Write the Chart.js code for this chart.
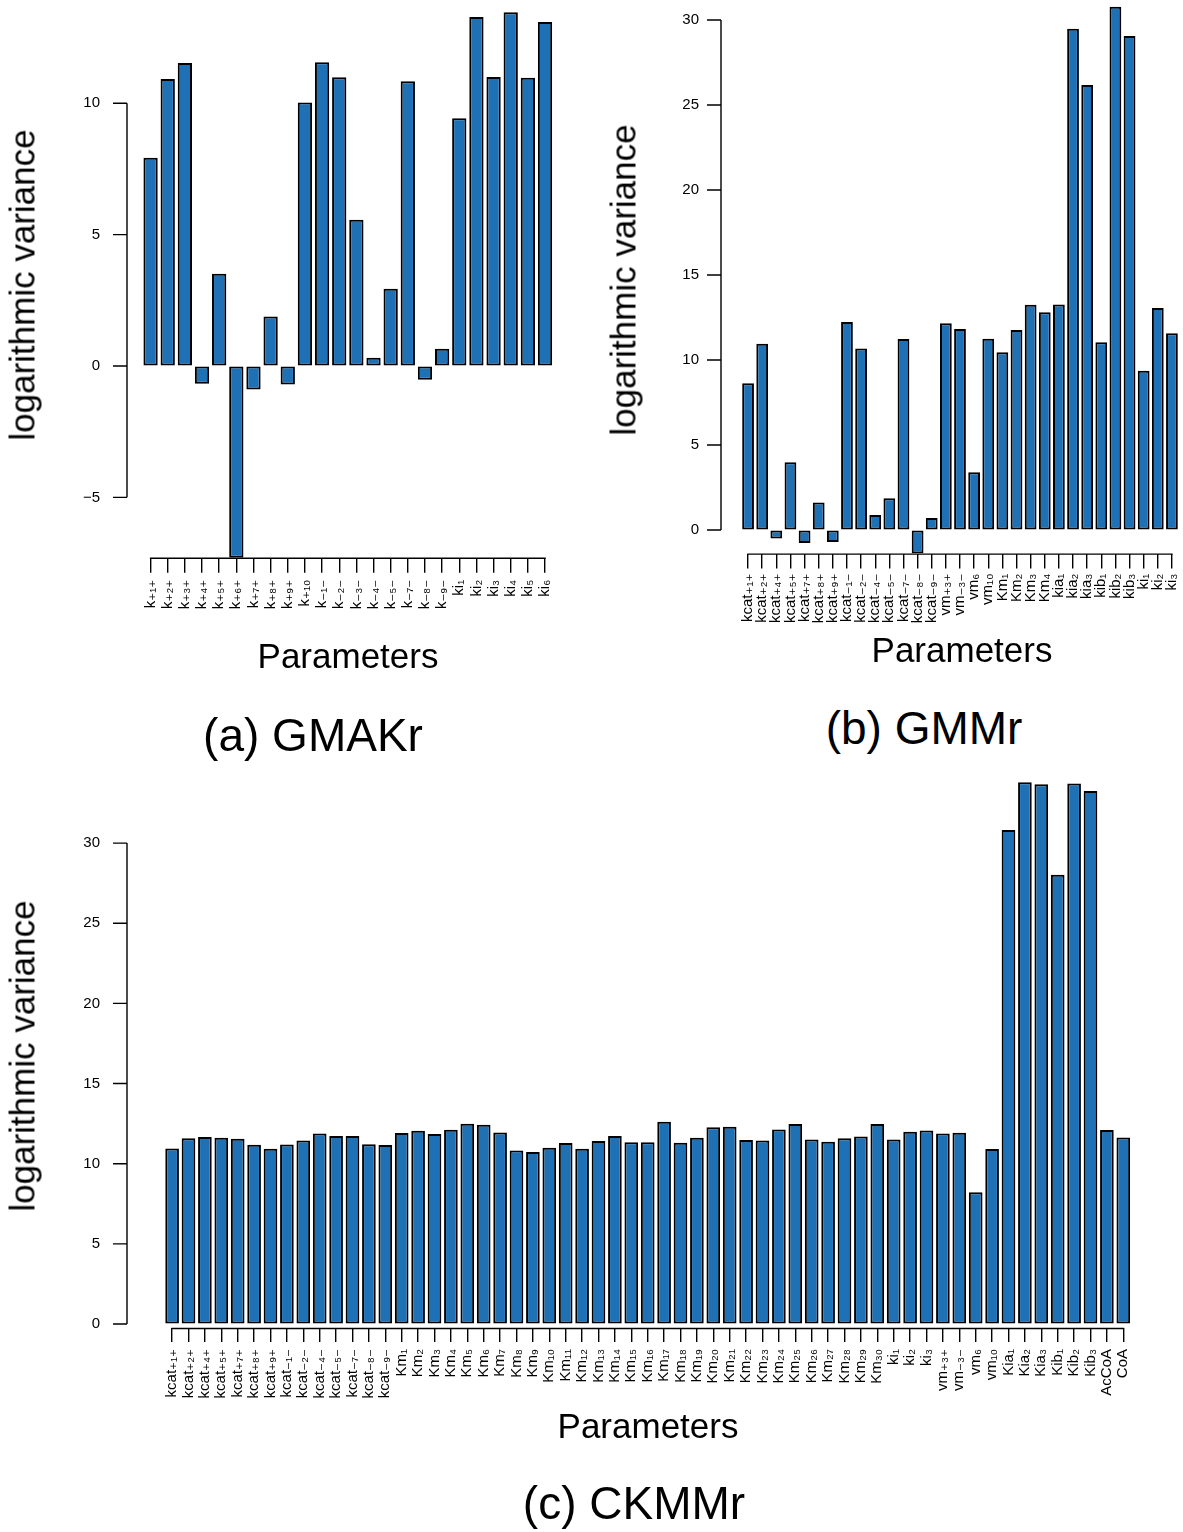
<!DOCTYPE html>
<html>
<head>
<meta charset="utf-8">
<script src="https://cdn.jsdelivr.net/npm/chart.js@4.4.1/dist/chart.umd.min.js"></script>
<style>
  body{margin:0;background:#fff;width:1183px;height:1532px;position:relative;overflow:hidden;
       font-family:'Liberation Sans',Arial,sans-serif;color:#000}
  canvas{position:absolute}
  .txt{position:absolute;white-space:nowrap;line-height:1;transform:translate(-50%,-50%)}
  .rot{transform:translate(-50%,-50%) rotate(-90deg)}
</style>
</head>
<body>
<canvas id="chartA" width="600" height="650" style="left:0px;top:-10px"></canvas>
<canvas id="chartB" width="640" height="650" style="left:600px;top:-10px"></canvas>
<canvas id="chartC" width="1183" height="660" style="left:0px;top:760px"></canvas>

<div class="txt rot" style="left:22px;top:285px;font-size:35px">logarithmic variance</div>
<div class="txt" style="left:348px;top:655px;font-size:35px">Parameters</div>
<div class="txt" style="left:313px;top:735px;font-size:46px">(a) GMAKr</div>

<div class="txt rot" style="left:623px;top:280px;font-size:35px">logarithmic variance</div>
<div class="txt" style="left:962px;top:649px;font-size:35px">Parameters</div>
<div class="txt" style="left:924px;top:728px;font-size:46px">(b) GMMr</div>

<div class="txt rot" style="left:22px;top:1056px;font-size:35px">logarithmic variance</div>
<div class="txt" style="left:648px;top:1425px;font-size:35px">Parameters</div>
<div class="txt" style="left:634px;top:1503px;font-size:46px">(c) CKMMr</div>

<script>
/* three R-style barplots of logarithmic parameter variance */
const FONT = "'Liberation Sans', 'DejaVu Sans', Arial, sans-serif";
const BAR_FILL = "#1f71b6";

// (a) GMAKr
const labelsA = ["k₊₁₊","k₊₂₊","k₊₃₊","k₊₄₊","k₊₅₊","k₊₆₊","k₊₇₊","k₊₈₊","k₊₉₊","k₊₁₀",
  "k₋₁₋","k₋₂₋","k₋₃₋","k₋₄₋","k₋₅₋","k₋₇₋","k₋₈₋","k₋₉₋","ki₁","ki₂","ki₃","ki₄","ki₅","ki₆"];
const valuesA = [7.93, 10.92, 11.53, -0.68, 3.51, -7.3, -0.89, 1.88, -0.70, 10.03,
  11.56, 10.99, 5.57, 0.31, 2.94, 10.84, -0.52, 0.66, 9.43, 13.28, 11.0, 13.46, 10.97, 13.09];
const yTicksA = [-5, 0, 5, 10];

// (b) GMMr
const labelsB = ["kcat₊₁₊","kcat₊₂₊","kcat₊₄₊","kcat₊₅₊","kcat₊₇₊","kcat₊₈₊","kcat₊₉₊",
  "kcat₋₁₋","kcat₋₂₋","kcat₋₄₋","kcat₋₅₋","kcat₋₇₋","kcat₋₈₋","kcat₋₉₋",
  "vm₊₃₊","vm₋₃₋","vm₆","vm₁₀","Km₁","Km₂","Km₃","Km₄",
  "kia₁","kia₂","kia₃","kib₁","kib₂","kib₃","ki₁","ki₂","ki₃"];
const valuesB = [8.63, 10.96, -0.50, 3.99, -0.76, 1.62, -0.71,
  12.24, 10.67, 0.88, 1.87, 11.23, -1.39, 0.71,
  12.16, 11.82, 3.40, 11.25, 10.46, 11.76, 13.25, 12.81,
  13.27, 29.48, 26.18, 11.04, 30.78, 29.06, 9.36, 13.06, 11.57];
const yTicksB = [0, 5, 10, 15, 20, 25, 30];

// (c) CKMMr
const labelsC = ["kcat₊₁₊","kcat₊₂₊","kcat₊₄₊","kcat₊₅₊","kcat₊₇₊","kcat₊₈₊","kcat₊₉₊",
  "kcat₋₁₋","kcat₋₂₋","kcat₋₄₋","kcat₋₅₋","kcat₋₇₋","kcat₋₈₋","kcat₋₉₋",
  "Km₁","Km₂","Km₃","Km₄","Km₅","Km₆","Km₇","Km₈","Km₉","Km₁₀",
  "Km₁₁","Km₁₂","Km₁₃","Km₁₄","Km₁₅","Km₁₆","Km₁₇","Km₁₈","Km₁₉","Km₂₀",
  "Km₂₁","Km₂₂","Km₂₃","Km₂₄","Km₂₅","Km₂₆","Km₂₇","Km₂₈","Km₂₉","Km₃₀",
  "ki₁","ki₂","ki₃","vm₊₃₊","vm₋₃₋","vm₆","vm₁₀",
  "Kia₁","Kia₂","Kia₃","Kib₁","Kib₂","Kib₃","AcCoA","CoA"];
const valuesC = [10.95, 11.58, 11.66, 11.62, 11.56, 11.18, 10.93,
  11.20, 11.45, 11.89, 11.72, 11.72, 11.22, 11.16,
  11.91, 12.05, 11.85, 12.12, 12.49, 12.43, 11.95, 10.83, 10.73, 11.00,
  11.29, 10.93, 11.41, 11.72, 11.33, 11.33, 12.61, 11.31, 11.62, 12.28,
  12.30, 11.47, 11.45, 12.14, 12.47, 11.51, 11.37, 11.58, 11.70, 12.47,
  11.51, 11.99, 12.07, 11.89, 11.93, 8.22, 10.91,
  30.82, 33.79, 33.67, 28.03, 33.71, 33.25, 12.10, 11.64];
const yTicksC = [0, 5, 10, 15, 20, 25, 30];

const $id = id => document.getElementById(id);

// R draws its axis lines only between the first and last tick
function rAxes(cfg){
  return {
    id: "rAxes",
    afterDraw(chart){
      const ctx = chart.ctx, x = chart.scales.x, y = chart.scales.y;
      const off = parseFloat(chart.canvas.style.left);
      const ax = cfg.yAxisX - off;
      ctx.save();
      ctx.strokeStyle = "#000";
      ctx.lineWidth = 1.4;
      ctx.beginPath();
      const top = y.getPixelForValue(cfg.yTicks[cfg.yTicks.length - 1]);
      const bot = y.getPixelForValue(cfg.yTicks[0]);
      ctx.moveTo(ax, top); ctx.lineTo(ax, bot);
      cfg.yTicks.forEach(v => {
        const py = y.getPixelForValue(v);
        ctx.moveTo(ax - 14, py); ctx.lineTo(ax, py);
      });
      const by = chart.chartArea.bottom + 0.5;
      ctx.moveTo(x.getPixelForTick(0) - 0.7, by);
      ctx.lineTo(x.getPixelForTick(cfg.labels.length - 1) + 0.7, by);
      ctx.stroke();
      ctx.restore();
    }
  };
}

function barChart(id, cfg){
  const c = $id(id);
  const left = parseFloat(c.style.left), top = parseFloat(c.style.top);
  const a = cfg.area;
  return new Chart(c, {
    type: "bar",
    data: { labels: cfg.labels, datasets: [{ data: cfg.values, backgroundColor: BAR_FILL,
      borderColor: "#000", borderWidth: 2, borderSkipped: false,
      categoryPercentage: 1, barPercentage: 1 / 1.2 }]},
    options: {
      responsive: false, animation: false, devicePixelRatio: 1,
      layout: { padding: { left: 0, top: a.top - top, right: left + c.width - a.right, bottom: 0 } },
      plugins: { legend: { display: false }, tooltip: { enabled: false } },
      scales: {
        x: {
          grid: { drawOnChartArea: false, offset: false, color: "#000", lineWidth: 1.4, tickLength: cfg.tickLen },
          border: { display: false },
          ticks: { autoSkip: false, minRotation: 90, maxRotation: 90, padding: cfg.labPad, color: "#000",
                   font: { family: FONT, size: cfg.labSize } },
          afterFit: s => { s.height = top + c.height - a.bottom; }
        },
        y: {
          min: cfg.yMin, max: cfg.yMax,
          // invisible tick marks keep the labels away from the bars (R draws the real axis)
          grid: { drawOnChartArea: false, drawTicks: true, tickLength: a.left - cfg.yLabRight,
                  color: "rgba(0,0,0,0)" },
          border: { display: false },
          afterBuildTicks: s => { s.ticks = cfg.yTicks.map(v => ({ value: v })); },
          ticks: { padding: 0, color: "#000", font: { family: FONT, size: 15 },
                   callback: v => (v < 0 ? "\u2212" + Math.abs(v) : String(v)) },
          afterFit: s => { s.width = a.left - left; }
        }
      }
    },
    plugins: [rAxes(cfg)]
  });
}

barChart("chartA", { labels: labelsA, values: valuesA, yTicks: yTicksA, yMin: -7.3, yMax: 13.74,
  area: { left: 142, right: 553.6, top: 5, bottom: 557.8 }, yAxisX: 127, yLabRight: 100,
  tickLen: 15, labPad: 7, labSize: 15 });

barChart("chartB", { labels: labelsB, values: valuesB, yTicks: yTicksB, yMin: -1.39, yMax: 31.0,
  area: { left: 741, right: 1179, top: 3, bottom: 553.6 }, yAxisX: 721, yLabRight: 699,
  tickLen: 15, labPad: 5, labSize: 15 });

barChart("chartC", { labels: labelsC, values: valuesC, yTicks: yTicksC, yMin: -0.25, yMax: 34.06,
  area: { left: 163.9, right: 1131.5, top: 778, bottom: 1328 }, yAxisX: 127, yLabRight: 100,
  tickLen: 14, labPad: 7, labSize: 15 });
</script>
</body>
</html>
